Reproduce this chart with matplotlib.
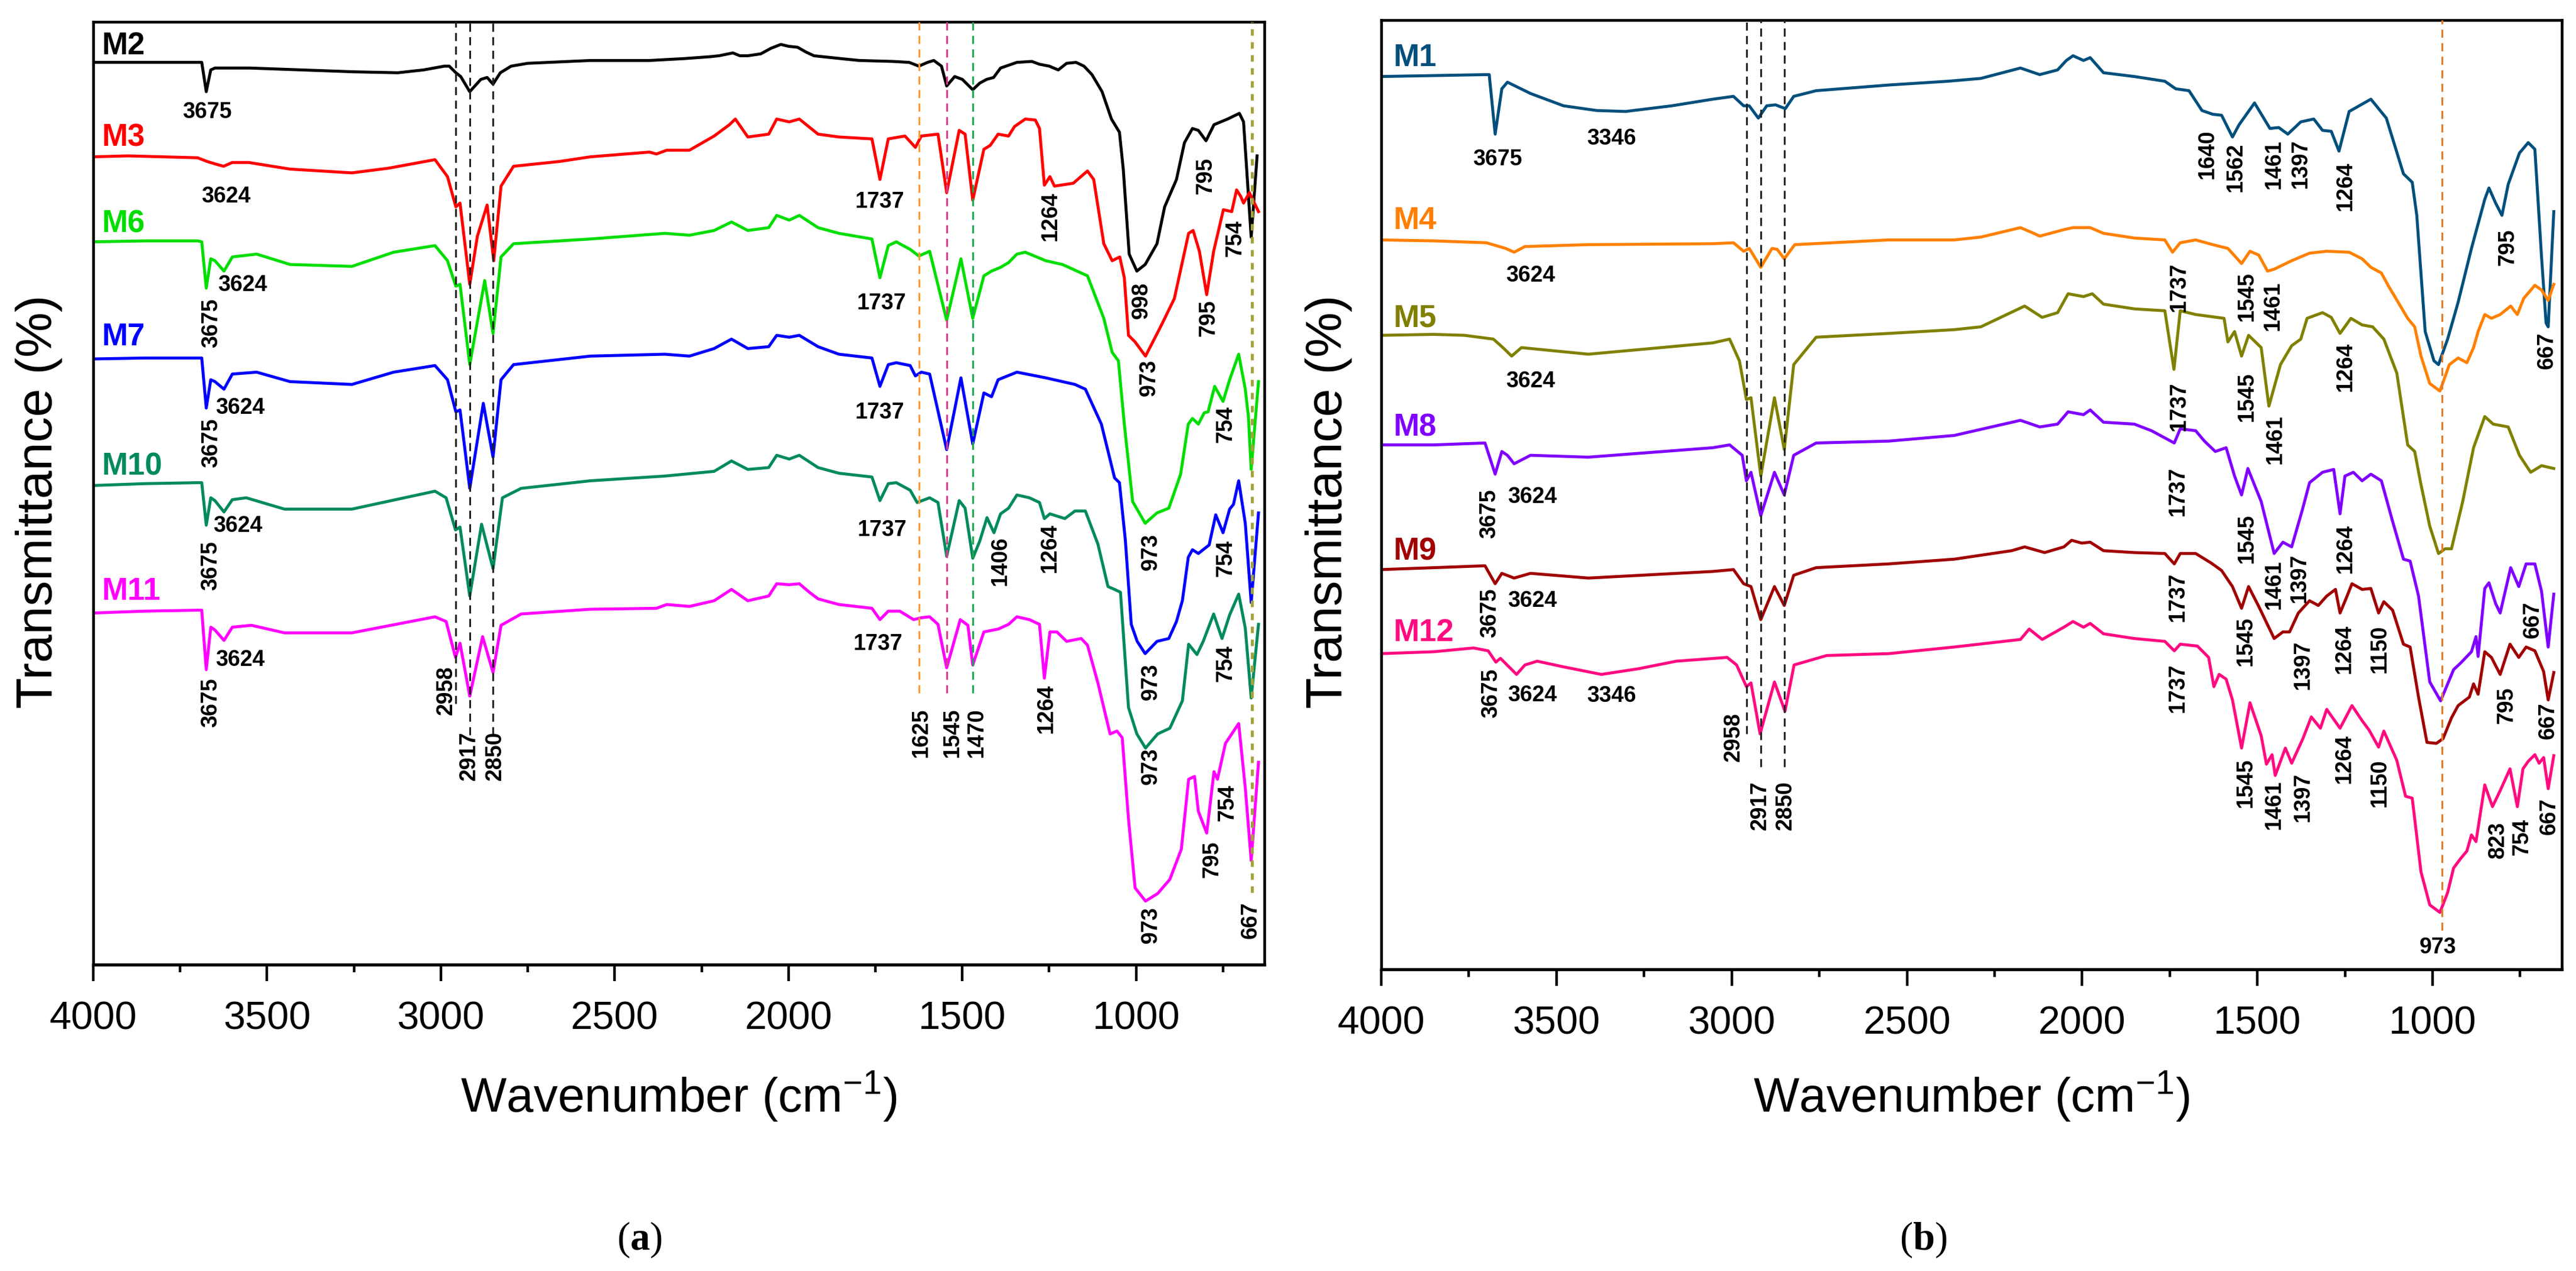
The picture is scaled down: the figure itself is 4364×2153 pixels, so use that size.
import matplotlib
matplotlib.use('Agg')
import matplotlib.pyplot as plt
from matplotlib.ticker import MultipleLocator

plt.rcParams['font.family'] = ['Liberation Sans', 'DejaVu Sans']
plt.rcParams['mathtext.default'] = 'regular'
plt.rcParams['mathtext.fontset'] = 'custom'
plt.rcParams['mathtext.bf'] = 'Liberation Serif:bold'

# ---------------- spectra, (wavenumber cm-1, transmittance %) ----------------
# panel (a)
m2 = [(4000, 95.9), (3850, 95.9), (3700, 95.9), (3688, 95.9), (3675, 92.8), (3662, 95.1), (3650, 95.3),
      (3550, 95.3), (3400, 95.1), (3250, 94.9), (3124, 94.8), (3050, 95.1), (2990, 95.5), (2976, 95.5),
      (2957, 94.8), (2943, 94.4), (2917, 92.8), (2885, 94.1), (2867, 94.3), (2850, 93.6), (2829, 94.8),
      (2798, 95.5), (2750, 95.8), (2570, 96.1), (2400, 96.1), (2300, 96.3), (2226, 96.5), (2200, 96.6),
      (2160, 96.9), (2140, 96.6), (2117, 96.6), (2080, 96.8), (2050, 97.4), (2022, 97.8), (2000, 97.6),
      (1974, 97.5), (1950, 97.0), (1927, 96.6), (1850, 96.3), (1796, 96.1), (1700, 96.0), (1653, 95.9),
      (1625, 95.5), (1600, 95.9), (1582, 96.1), (1560, 95.5), (1545, 93.4), (1522, 94.4), (1500, 94.1),
      (1470, 93.0), (1450, 93.7), (1430, 94.1), (1410, 94.3), (1390, 95.3), (1343, 95.9), (1300, 96.0),
      (1278, 95.7), (1250, 95.5), (1224, 95.1), (1200, 95.8), (1173, 95.9), (1150, 95.5), (1127, 94.6),
      (1098, 92.8), (1071, 89.9), (1048, 88.5), (1037, 84.6), (1020, 75.6), (998, 73.8), (974, 74.5),
      (940, 76.7), (918, 80.6), (884, 83.5), (861, 87.4), (838, 88.9), (821, 88.7), (799, 87.6),
      (776, 89.3), (737, 89.9), (703, 90.5), (691, 89.6), (669, 77.4), (652, 86.0)]
m3 = [(4000, 85.9), (3900, 86.0), (3800, 85.9), (3700, 85.8), (3672, 85.4), (3645, 85.1), (3625, 84.9),
      (3600, 85.3), (3553, 85.3), (3434, 84.6), (3256, 84.2), (3150, 84.7), (3017, 85.6), (2981, 83.8),
      (2957, 80.6), (2945, 81.0), (2917, 72.4), (2895, 77.5), (2867, 80.8), (2848, 74.9), (2827, 82.8),
      (2791, 84.9), (2660, 85.4), (2570, 85.9), (2400, 86.4), (2380, 86.2), (2350, 86.6), (2285, 86.6),
      (2214, 88.1), (2170, 89.3), (2153, 89.9), (2117, 88.0), (2057, 88.3), (2034, 89.9), (1998, 89.6),
      (1969, 89.9), (1915, 88.3), (1855, 88.0), (1760, 87.8), (1737, 83.5), (1713, 87.8), (1665, 88.1),
      (1635, 86.9), (1618, 88.1), (1570, 88.3), (1545, 82.1), (1509, 88.7), (1492, 88.3), (1470, 81.3),
      (1438, 86.7), (1420, 87.1), (1397, 88.3), (1367, 88.1), (1350, 89.1), (1319, 89.9), (1290, 89.8),
      (1278, 88.9), (1264, 82.9), (1248, 83.8), (1235, 82.8), (1181, 83.1), (1140, 84.4), (1122, 83.5),
      (1093, 76.7), (1069, 74.9), (1047, 75.3), (1034, 73.1), (1022, 67.0), (1003, 66.3), (973, 64.8),
      (927, 68.1), (890, 70.9), (849, 77.8), (836, 78.1), (818, 75.9), (797, 71.3), (777, 75.9),
      (749, 80.3), (725, 80.1), (711, 82.4), (699, 81.7), (691, 81.0), (674, 82.1), (648, 80.1)]
m6 = [(4000, 76.9), (3850, 77.0), (3700, 77.0), (3688, 76.9), (3675, 72.0), (3662, 75.1), (3650, 74.9),
      (3624, 73.8), (3600, 75.3), (3530, 75.6), (3434, 74.5), (3256, 74.3), (3136, 75.8), (3017, 76.5),
      (2981, 74.9), (2957, 72.2), (2945, 72.4), (2917, 63.9), (2874, 72.8), (2850, 67.2), (2827, 75.3),
      (2791, 76.7), (2570, 77.2), (2356, 77.8), (2285, 77.6), (2214, 78.1), (2164, 79.0), (2117, 78.1),
      (2057, 78.4), (2034, 79.7), (1998, 79.2), (1969, 79.7), (1915, 78.4), (1855, 77.8), (1760, 77.2),
      (1737, 73.1), (1713, 76.5), (1690, 76.9), (1650, 76.1), (1625, 75.4), (1594, 75.9), (1545, 68.6),
      (1504, 75.1), (1470, 68.8), (1438, 73.3), (1416, 73.8), (1390, 74.2), (1367, 74.7), (1343, 75.6),
      (1319, 75.8), (1260, 74.9), (1212, 74.5), (1158, 73.6), (1140, 73.3), (1093, 68.8), (1069, 65.2),
      (1051, 64.3), (1034, 57.6), (1010, 49.4), (974, 47.1), (940, 48.2), (906, 48.7), (872, 52.3),
      (850, 57.6), (838, 58.2), (821, 57.6), (804, 58.8), (793, 58.9), (774, 61.6), (750, 60.0),
      (731, 62.3), (705, 65.0), (686, 61.3), (677, 58.4), (669, 52.8), (648, 62.1)]
m7 = [(4000, 64.5), (3850, 64.6), (3700, 64.6), (3688, 64.6), (3675, 59.3), (3662, 62.3), (3650, 62.1),
      (3624, 61.3), (3600, 62.9), (3530, 63.1), (3434, 62.1), (3256, 61.8), (3136, 63.1), (3017, 63.8),
      (2981, 62.3), (2957, 58.9), (2945, 59.1), (2917, 50.8), (2878, 59.8), (2850, 54.1), (2827, 62.3),
      (2791, 63.9), (2570, 64.8), (2356, 65.0), (2285, 64.8), (2214, 65.6), (2164, 66.6), (2117, 65.6),
      (2057, 65.8), (2034, 67.0), (1998, 66.8), (1969, 67.0), (1915, 65.8), (1855, 65.0), (1760, 64.6),
      (1737, 61.6), (1713, 63.9), (1690, 64.1), (1650, 63.8), (1635, 62.7), (1618, 63.1), (1594, 62.9),
      (1545, 54.9), (1504, 62.5), (1470, 55.5), (1438, 60.9), (1416, 60.5), (1397, 62.3), (1343, 63.1),
      (1260, 62.5), (1176, 61.8), (1146, 61.3), (1100, 57.6), (1062, 51.9), (1048, 51.4), (1031, 45.3),
      (1014, 36.4), (997, 34.6), (974, 33.3), (940, 34.6), (906, 34.9), (884, 36.7), (867, 38.9),
      (850, 43.5), (838, 44.3), (821, 43.9), (804, 44.4), (790, 44.8), (771, 48.0), (750, 46.1),
      (731, 48.6), (720, 49.1), (705, 51.6), (686, 47.1), (669, 38.7), (648, 48.2)]
m10 = [(4000, 51.1), (3850, 51.3), (3700, 51.4), (3688, 51.4), (3675, 46.9), (3662, 49.8), (3650, 49.5),
       (3624, 48.3), (3600, 49.6), (3560, 49.8), (3450, 48.6), (3256, 48.6), (3017, 50.5), (2985, 49.8),
       (2958, 46.4), (2945, 46.7), (2917, 39.4), (2883, 47.0), (2850, 42.3), (2823, 49.8), (2769, 50.8),
       (2570, 51.6), (2356, 52.1), (2214, 52.6), (2164, 53.7), (2117, 52.8), (2057, 53.0), (2034, 54.3),
       (1998, 53.9), (1969, 54.3), (1915, 53.0), (1855, 52.4), (1760, 52.0), (1737, 49.5), (1713, 51.3),
       (1690, 51.4), (1650, 50.6), (1630, 49.3), (1594, 49.8), (1570, 49.3), (1545, 43.6), (1509, 49.5),
       (1492, 48.7), (1470, 43.4), (1450, 45.2), (1429, 47.7), (1409, 46.1), (1390, 48.1), (1367, 48.7),
       (1343, 50.1), (1307, 49.8), (1278, 49.3), (1264, 47.6), (1248, 48.1), (1205, 47.6), (1176, 48.4),
       (1146, 48.4), (1110, 44.9), (1081, 40.4), (1062, 40.1), (1045, 39.8), (1022, 27.6), (998, 24.8),
       (973, 23.3), (938, 24.8), (903, 25.4), (867, 28.3), (849, 34.3), (825, 33.2), (807, 34.6),
       (777, 37.5), (753, 34.9), (731, 37.4), (705, 39.6), (686, 36.0), (669, 28.6), (648, 36.4)]
m11 = [(4000, 37.6), (3850, 37.8), (3700, 37.9), (3688, 37.9), (3675, 31.6), (3662, 36.1), (3650, 35.8),
       (3624, 34.7), (3600, 36.1), (3545, 36.3), (3450, 35.5), (3256, 35.5), (3017, 37.2), (2985, 36.7),
       (2958, 32.9), (2945, 34.4), (2917, 28.8), (2880, 35.1), (2850, 31.3), (2827, 36.3), (2769, 37.5),
       (2570, 38.0), (2380, 38.1), (2350, 38.5), (2285, 38.3), (2214, 38.9), (2164, 40.1), (2117, 38.9),
       (2057, 39.4), (2034, 40.7), (1998, 40.6), (1969, 40.7), (1940, 39.8), (1915, 39.1), (1855, 38.5),
       (1760, 38.1), (1737, 36.9), (1713, 37.8), (1680, 37.8), (1640, 36.9), (1618, 37.1), (1594, 37.2),
       (1570, 36.4), (1545, 31.8), (1506, 36.9), (1484, 36.3), (1470, 32.1), (1438, 35.6), (1397, 35.9),
       (1367, 36.4), (1343, 37.2), (1307, 36.9), (1278, 36.4), (1264, 30.7), (1248, 35.6), (1228, 35.6),
       (1200, 34.6), (1158, 34.9), (1140, 34.2), (1110, 30.2), (1075, 24.8), (1055, 25.1), (1040, 24.4),
       (1022, 15.8), (1003, 8.5), (973, 7.1), (938, 7.9), (903, 9.4), (870, 12.6), (849, 20.0),
       (832, 20.3), (821, 16.6), (797, 14.3), (776, 20.8), (766, 20.0), (743, 23.8), (705, 25.9),
       (686, 19.1), (669, 11.4), (648, 21.8)]

# panel (b)
m1 = [(4000, 94.4), (3850, 94.5), (3700, 94.6), (3692, 94.6), (3675, 88.3), (3656, 93.1), (3640, 93.8),
      (3574, 92.6), (3480, 91.3), (3385, 90.8), (3303, 90.7), (3171, 91.3), (3054, 92.0), (2995, 92.3),
      (2966, 91.3), (2950, 91.3), (2924, 90.0), (2900, 91.3), (2875, 91.4), (2847, 91.0), (2823, 92.3),
      (2759, 92.9), (2552, 93.5), (2383, 93.9), (2289, 94.2), (2176, 95.3), (2121, 94.6), (2070, 95.1),
      (2045, 96.1), (2026, 96.6), (1996, 96.1), (1977, 96.4), (1939, 94.8), (1851, 94.4), (1764, 93.9),
      (1733, 93.1), (1695, 92.9), (1658, 90.8), (1627, 90.4), (1602, 90.3), (1571, 88.0), (1552, 89.3),
      (1508, 91.6), (1464, 88.9), (1439, 89.0), (1413, 88.3), (1376, 89.6), (1339, 89.9), (1314, 88.7),
      (1289, 88.6), (1267, 86.5), (1238, 90.7), (1176, 92.0), (1132, 90.0), (1083, 84.1), (1058, 83.2),
      (1045, 79.7), (1021, 67.4), (996, 64.3), (983, 63.9), (957, 66.6), (927, 70.5), (889, 76.2),
      (851, 81.4), (839, 82.6), (820, 81.0), (802, 79.7), (784, 83.0), (752, 86.3), (727, 87.4),
      (708, 86.7), (689, 75.3), (676, 68.3), (670, 67.9), (654, 80.1)]
m4 = [(4000, 77.1), (3850, 77.0), (3700, 76.8), (3645, 76.2), (3621, 75.8), (3590, 76.4), (3409, 76.6),
      (3054, 76.7), (2995, 76.8), (2966, 75.9), (2950, 76.2), (2917, 74.2), (2885, 76.2), (2870, 76.1),
      (2850, 75.1), (2820, 76.6), (2552, 77.1), (2365, 77.1), (2289, 77.4), (2176, 78.4), (2138, 77.8),
      (2121, 77.5), (2051, 78.2), (2026, 78.4), (1977, 78.4), (1939, 77.8), (1851, 77.3), (1764, 77.1),
      (1742, 75.8), (1720, 76.8), (1676, 77.1), (1627, 76.6), (1584, 76.2), (1545, 74.6), (1521, 75.9),
      (1496, 75.5), (1471, 73.8), (1452, 74.0), (1402, 74.9), (1351, 75.7), (1302, 75.9), (1238, 75.8),
      (1201, 75.1), (1176, 74.2), (1146, 73.6), (1127, 72.3), (1071, 68.8), (1051, 67.9), (1033, 64.8),
      (1008, 61.9), (979, 61.1), (952, 63.9), (927, 64.6), (902, 64.1), (883, 65.7), (870, 67.4),
      (851, 69.2), (832, 68.8), (807, 69.2), (777, 70.1), (758, 69.2), (740, 70.9), (708, 72.3),
      (689, 71.8), (670, 70.7), (654, 72.4)]
m5 = [(4000, 67.0), (3850, 67.1), (3763, 67.0), (3680, 66.6), (3650, 65.6), (3628, 64.8), (3600, 65.7),
      (3409, 65.0), (3054, 66.2), (3006, 66.6), (2978, 64.3), (2958, 60.2), (2945, 60.4), (2917, 52.1),
      (2878, 60.4), (2850, 54.9), (2823, 63.9), (2759, 66.8), (2552, 67.2), (2365, 67.6), (2289, 67.9),
      (2164, 70.1), (2114, 68.9), (2070, 69.4), (2040, 71.4), (1996, 71.1), (1971, 71.4), (1939, 70.3),
      (1851, 69.8), (1764, 69.6), (1738, 63.4), (1720, 69.6), (1676, 69.2), (1595, 68.8), (1584, 66.3),
      (1565, 67.4), (1545, 64.8), (1525, 67.0), (1489, 65.7), (1467, 59.5), (1434, 63.9), (1402, 65.9),
      (1376, 66.6), (1358, 68.8), (1314, 69.4), (1289, 68.9), (1264, 67.2), (1233, 68.8), (1201, 68.1),
      (1171, 67.9), (1139, 66.6), (1102, 63.0), (1071, 55.4), (1051, 54.7), (1033, 51.2), (1008, 46.8),
      (983, 43.9), (964, 44.4), (946, 44.4), (914, 49.4), (883, 55.1), (851, 58.4), (827, 57.6),
      (784, 57.3), (752, 54.3), (720, 52.5), (689, 53.2), (654, 52.9)]
m8 = [(4000, 55.4), (3850, 55.4), (3704, 55.6), (3675, 52.3), (3656, 54.7), (3640, 54.3), (3621, 53.4),
      (3574, 54.3), (3409, 54.1), (3054, 55.1), (3006, 55.4), (2970, 54.3), (2958, 51.6), (2945, 52.5),
      (2917, 47.9), (2878, 52.5), (2850, 50.1), (2823, 54.3), (2759, 55.6), (2552, 55.8), (2365, 56.4),
      (2176, 58.0), (2121, 57.3), (2070, 57.6), (2040, 58.9), (1996, 58.6), (1977, 59.1), (1939, 57.8),
      (1851, 57.6), (1802, 56.9), (1737, 55.6), (1720, 57.1), (1676, 56.9), (1651, 55.8), (1620, 54.7),
      (1589, 55.1), (1565, 52.1), (1545, 50.1), (1527, 52.9), (1489, 49.4), (1452, 43.9), (1427, 45.1),
      (1402, 44.6), (1371, 48.6), (1351, 51.4), (1314, 52.5), (1282, 52.8), (1264, 48.1), (1250, 52.1),
      (1226, 52.5), (1201, 51.6), (1176, 52.3), (1146, 51.6), (1114, 47.3), (1083, 43.3), (1064, 43.1),
      (1040, 39.4), (1008, 30.3), (977, 28.3), (940, 31.6), (920, 32.3), (889, 33.5), (876, 35.1),
      (870, 33.0), (851, 40.2), (839, 40.8), (820, 38.6), (807, 37.6), (777, 42.4), (754, 40.4),
      (733, 42.8), (708, 42.8), (689, 39.9), (670, 34.0), (654, 39.6)]
m9 = [(4000, 42.2), (3850, 42.4), (3704, 42.6), (3675, 40.7), (3656, 41.8), (3621, 41.3), (3574, 41.8),
      (3409, 41.3), (3054, 42.0), (2995, 42.2), (2966, 40.7), (2945, 40.4), (2917, 36.9), (2878, 40.4),
      (2850, 38.4), (2823, 41.6), (2759, 42.4), (2552, 42.8), (2365, 43.3), (2201, 44.2), (2164, 44.6),
      (2107, 44.0), (2052, 44.6), (2030, 45.3), (2001, 45.0), (1977, 45.1), (1939, 44.2), (1851, 44.0),
      (1764, 43.9), (1737, 42.8), (1720, 43.9), (1676, 43.9), (1632, 42.9), (1602, 42.1), (1571, 40.4),
      (1545, 38.1), (1525, 40.4), (1496, 38.3), (1452, 34.9), (1427, 35.6), (1408, 35.6), (1383, 37.6),
      (1351, 38.9), (1326, 38.4), (1302, 39.4), (1277, 40.1), (1264, 37.6), (1245, 39.3), (1230, 40.7),
      (1201, 40.1), (1176, 40.2), (1154, 37.6), (1139, 38.8), (1114, 37.9), (1083, 34.3), (1064, 34.0),
      (1040, 28.7), (1016, 23.9), (989, 23.8), (970, 24.3), (946, 26.5), (927, 27.8), (895, 28.7),
      (883, 30.1), (870, 29.0), (851, 33.5), (832, 32.9), (807, 31.1), (779, 34.3), (754, 32.9),
      (733, 34.0), (708, 33.6), (683, 31.4), (670, 28.4), (654, 31.3)]
m12 = [(4000, 33.3), (3850, 33.5), (3737, 33.9), (3695, 33.6), (3673, 32.4), (3660, 32.8), (3614, 31.1),
       (3590, 32.1), (3555, 32.5), (3480, 31.9), (3372, 31.1), (3266, 31.7), (3158, 32.5), (3013, 32.9),
       (2986, 32.1), (2958, 29.8), (2945, 30.2), (2919, 24.8), (2878, 30.3), (2848, 27.2), (2822, 32.1),
       (2729, 33.1), (2552, 33.3), (2365, 34.0), (2176, 34.8), (2151, 35.9), (2114, 34.8), (2052, 36.1),
       (2026, 36.7), (1996, 36.1), (1977, 36.5), (1939, 35.4), (1851, 34.9), (1764, 34.6), (1737, 33.6),
       (1720, 34.3), (1671, 34.1), (1639, 32.9), (1624, 29.8), (1609, 31.1), (1589, 30.6), (1571, 28.4),
       (1545, 23.3), (1521, 28.1), (1489, 24.6), (1474, 21.6), (1458, 22.6), (1449, 20.4), (1420, 23.3),
       (1402, 21.7), (1370, 24.3), (1346, 26.6), (1320, 25.4), (1302, 27.4), (1264, 25.4), (1230, 27.8),
       (1201, 26.2), (1181, 25.2), (1154, 23.4), (1139, 25.1), (1102, 22.0), (1077, 18.2), (1058, 18.0),
       (1033, 10.2), (1008, 6.7), (979, 5.9), (957, 8.0), (940, 10.6), (920, 11.6), (902, 12.4),
       (889, 14.1), (876, 13.4), (851, 19.4), (829, 17.1), (807, 18.8), (779, 21.1), (758, 17.1),
       (742, 21.1), (727, 21.9), (708, 22.6), (696, 21.7), (683, 22.3), (670, 19.0), (654, 22.5)]

series_a = [('M2', '#000000', m2), ('M3', '#FF0000', m3), ('M6', '#00DD00', m6),
            ('M7', '#0000FF', m7), ('M10', '#008A5E', m10), ('M11', '#FF00FF', m11)]
series_b = [('M1', '#004F7C', m1), ('M4', '#FF8000', m4), ('M5', '#808000', m5),
            ('M8', '#8000FF', m8), ('M9', '#A00000', m9), ('M12', '#FF0A80', m12)]

# where each sample name sits (transmittance level)
names_a_y = [97.6, 87.9, 78.8, 66.8, 53.1, 39.9]
names_b_y = [96.4, 79.1, 68.8, 57.2, 44.1, 35.5]

# peak labels: text, x (cm-1), y (%), rotation
notes_a = [
    ('3675', 3672, 90.6, 0), ('998', 984, 70.7, 90), ('795', 801, 83.9, 90),
    ('3624', 3618, 81.7, 0), ('1737', 1737, 81.1, 0), ('1264', 1246, 79.6, 90),
    ('973', 962, 62.5, 90), ('795', 792, 68.8, 90), ('754', 716, 77.3, 90),
    ('3675', 3660, 68.3, 90), ('3624', 3570, 72.3, 0), ('1737', 1733, 70.4, 0),
    ('973', 957, 44.1, 90), ('754', 742, 57.6, 90),
    ('3675', 3660, 55.6, 90), ('3624', 3577, 59.3, 0), ('1737', 1737, 58.8, 0),
    ('973', 957, 30.3, 90), ('754', 743, 43.4, 90),
    ('3675', 3662, 42.6, 90), ('3624', 3584, 46.8, 0), ('1737', 1730, 46.4, 0),
    ('1406', 1390, 43.1, 90), ('1264', 1248, 44.5, 90), ('973', 957, 21.4, 90), ('754', 742, 32.3, 90),
    ('3675', 3662, 28.1, 90), ('3624', 3577, 32.6, 0), ('2958', 2985, 29.4, 90),
    ('2917', 2918, 22.5, 90), ('2850', 2844, 22.5, 90), ('1737', 1742, 34.3, 0),
    ('1625', 1618, 24.9, 90), ('1545', 1528, 24.9, 90), ('1470', 1458, 24.9, 90),
    ('1264', 1259, 27.5, 90), ('973', 957, 4.6, 90), ('795', 782, 11.5, 90),
    ('754', 737, 17.5, 90), ('667', 670, 5.1, 90),
]
notes_b = [
    ('3675', 3668, 85.6, 0), ('3346', 3343, 87.8, 0), ('1640', 1642, 86.2, 90),
    ('1562', 1562, 84.8, 90), ('1461', 1452, 85.1, 90), ('1397', 1376, 85.2, 90),
    ('1264', 1248, 82.8, 90), ('795', 785, 76.3, 90), ('667', 674, 65.4, 90),
    ('3624', 3574, 73.3, 0), ('1737', 1723, 72.1, 90), ('1545', 1530, 71.1, 90), ('1461', 1456, 70.1, 90),
    ('3624', 3574, 62.1, 0), ('1737', 1723, 59.5, 90), ('1545', 1530, 60.5, 90),
    ('1461', 1449, 56.0, 90), ('1264', 1248, 63.7, 90),
    ('3675', 3692, 48.1, 90), ('3624', 3569, 49.9, 0), ('1737', 1727, 50.5, 90),
    ('1545', 1530, 45.5, 90), ('1461', 1452, 40.6, 90), ('1397', 1380, 41.3, 90),
    ('1264', 1248, 44.4, 90), ('667', 715, 36.9, 90),
    ('3675', 3690, 37.6, 90), ('3624', 3569, 38.9, 0), ('1737', 1727, 39.3, 90),
    ('1545', 1533, 34.6, 90), ('1397', 1370, 32.1, 90), ('1264', 1252, 33.8, 90),
    ('1150', 1151, 33.8, 90), ('795', 789, 27.8, 90), ('667', 671, 26.2, 90),
    ('3675', 3687, 29.1, 90), ('3624', 3569, 28.9, 0), ('3346', 3343, 28.8, 0),
    ('2958', 2995, 24.5, 90), ('2917', 2919, 17.2, 90), ('2850', 2846, 17.2, 90),
    ('1737', 1727, 29.7, 90), ('1545', 1533, 19.6, 90), ('1461', 1452, 17.3, 90),
    ('1397', 1370, 18.1, 90), ('1264', 1252, 22.2, 90), ('1150', 1151, 19.6, 90),
    ('823', 814, 13.6, 90), ('754', 745, 13.9, 90), ('667', 667, 16.1, 90), ('973', 984, 2.2, 0),
]

# guide lines: wavenumber, lower end (%), colour, dash pattern, width
guides_a = [(2958, 28.0, '#222222', (4.5, 3), 2.2), (2917, 24.7, '#222222', (4.5, 3), 2.2),
            (2850, 24.7, '#222222', (4.5, 3), 2.2), (1625, 29.1, '#FF9933', (4.5, 3), 2.2),
            (1545, 29.1, '#D63C8C', (4.5, 3), 2.2), (1470, 29.1, '#1FA84F', (4.5, 3), 2.2),
            (667, 8.0, '#A3A33C', (2.2, 2.2), 3.6)]
guides_b = [(2958, 24.8, '#222222', (4.5, 3), 2.2), (2917, 21.3, '#222222', (4.5, 3), 2.2),
            (2850, 21.3, '#222222', (4.5, 3), 2.2), (973, 4.0, '#E07B2A', (4.5, 3), 2.2)]


def draw_panel(ax, series, names_y, notes, guides, ylim, name_x):
    for (name, color, pts), ny in zip(series, names_y):
        wn = [p[0] for p in pts]
        tr = [p[1] for p in pts]
        ax.plot(wn, tr, color=color, lw=3.6, solid_joinstyle='round', zorder=2)
        ax.text(name_x, ny, name, color=color, fontsize=38, fontweight='bold',
                ha='left', va='center')
    for x, y0, color, dash, lw in guides:
        ax.plot([x, x], [y0, ylim[1]], color=color, lw=lw, dashes=dash, zorder=3)
    for txt, x, y, rot in notes:
        ax.text(x, y, txt, fontsize=27, fontweight='bold', rotation=rot,
                ha='center', va='center', zorder=4)
    ax.set_xlim(4000, 631)
    ax.set_ylim(*ylim)
    ax.set_yticks([])
    ax.xaxis.set_major_locator(MultipleLocator(500))
    ax.xaxis.set_minor_locator(MultipleLocator(250))
    ax.tick_params(axis='x', which='major', length=20, width=3.2, labelsize=48, pad=24)
    ax.tick_params(axis='x', which='minor', length=9.5, width=3.2)
    for sp in ax.spines.values():
        sp.set_linewidth(3.3)
    ax.spines['bottom'].set_linewidth(3.8)
    ax.set_xlabel(r'Wavenumber (cm$^{-1}$)', fontsize=59, va='center')
    ax.set_ylabel('Transmittance (%)', fontsize=62, va='center')


fig = plt.figure(figsize=(43.64, 21.53), dpi=100)
ax_a = fig.add_axes([0.03621, 0.24106, 0.45463, 0.74175])
ax_b = fig.add_axes([0.53621, 0.23734, 0.45830, 0.74686])

draw_panel(ax_a, series_a, names_a_y, notes_a, guides_a, (0.375, 100.19), 3976)
draw_panel(ax_b, series_b, names_b_y, notes_b, guides_b, (-0.125, 100.375), 3966)

ax_a.xaxis.set_label_coords(0.5, -0.1396)
ax_a.yaxis.set_label_coords(-0.0464, 0.491)
ax_b.xaxis.set_label_coords(0.5, -0.1337)
ax_b.yaxis.set_label_coords(-0.0445, 0.4925)

fig.text(0.2482, 0.0246, r'($\mathbf{a}$)', fontsize=48, family='Liberation Serif',
         ha='center', va='center')
fig.text(0.7466, 0.0246, r'($\mathbf{b}$)', fontsize=48, family='Liberation Serif',
         ha='center', va='center')

fig.savefig('out.png', dpi=100)
